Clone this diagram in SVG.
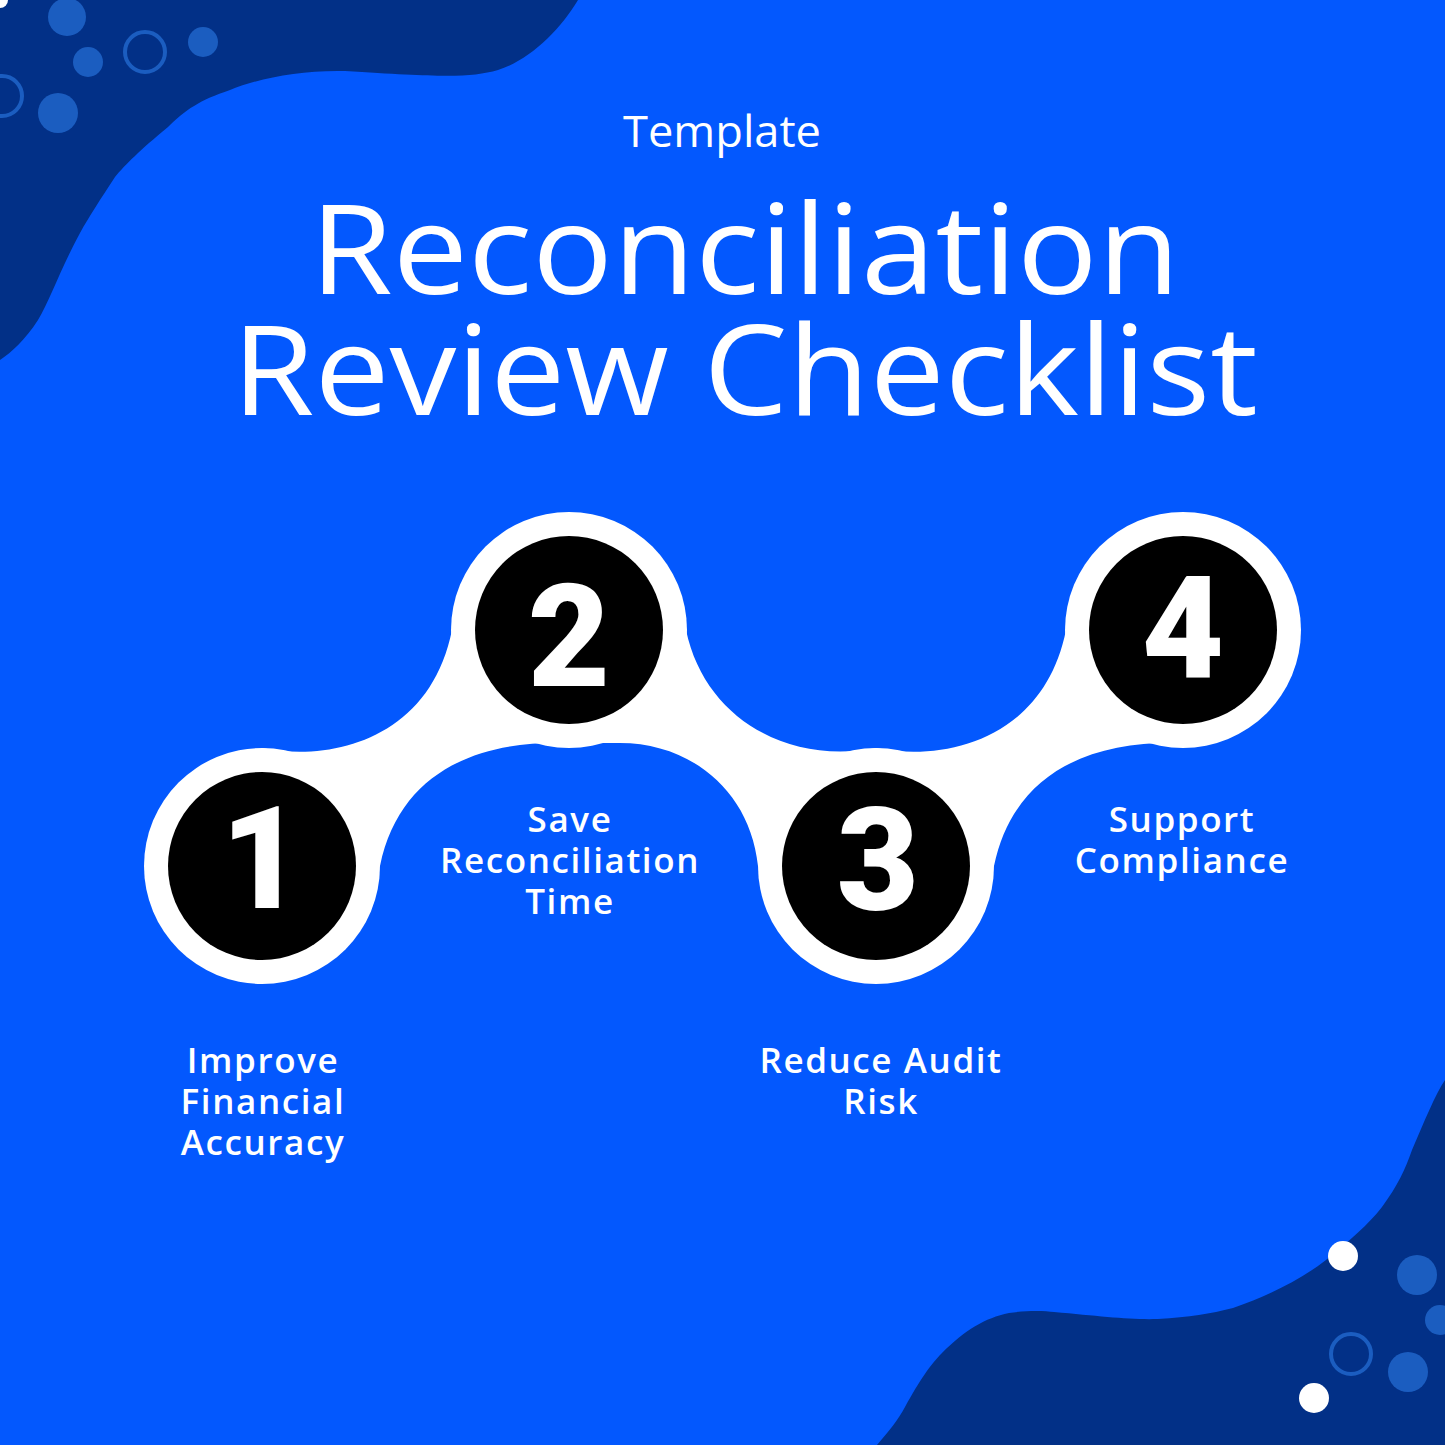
<svg xmlns="http://www.w3.org/2000/svg" width="1445" height="1445" viewBox="0 0 1445 1445">
<style>
.dot{fill:#1B5DC0}
.ring{fill:none;stroke:#1B5DC0;stroke-width:4}
.wd{fill:#fff}
.lab{font-family:"Open Sans","Liberation Sans",sans-serif;font-size:35px;font-weight:600;fill:#fff;text-anchor:middle;letter-spacing:1.6px}
.num{font-family:"Roboto","Liberation Sans",sans-serif;font-size:142px;font-weight:900;fill:#fff;text-anchor:middle}
.ttl{font-family:"Open Sans","Liberation Sans",sans-serif;fill:#fff;text-anchor:middle}
</style>
<rect width="1445" height="1445" fill="#0358FE"/>
<path fill="#023087" d="M0,0 L578,0 C560,30 530,60 498,70 C470,78 440,77 345,71 C300,70 260,78 230,90 C200,100 185,110 168,127 C140,150 125,165 115,177 C100,200 90,215 80,233 C60,270 50,300 38,320 C25,340 12,352 0,360 Z"/>
<path fill="#023087" d="M1445,1080 L1445,1445 L877,1445 C890,1430 898,1420 905,1407 C920,1380 930,1365 942,1353 C965,1330 985,1318 1009,1313 C1030,1310 1045,1311 1054,1312 C1100,1316 1130,1320 1158,1319 C1190,1317 1210,1314 1233,1308 C1270,1295 1300,1280 1326,1260 C1350,1240 1368,1225 1382,1207 C1398,1185 1405,1170 1412,1150 C1425,1120 1435,1095 1445,1080 Z"/>
<circle class="dot" cx="67" cy="17" r="19"/>
<circle class="dot" cx="88" cy="62" r="15"/>
<circle class="ring" cx="145" cy="52" r="20"/>
<circle class="dot" cx="203" cy="42" r="15"/>
<circle class="ring" cx="2" cy="96" r="20"/>
<circle class="dot" cx="58" cy="113" r="20"/>
<circle class="wd" cx="0" cy="0" r="8"/>
<circle class="dot" cx="1417" cy="1275" r="20"/>
<circle class="dot" cx="1440" cy="1320" r="15"/>
<circle class="ring" cx="1351" cy="1354" r="20"/>
<circle class="dot" cx="1408" cy="1372" r="20"/>
<circle class="wd" cx="1343" cy="1256" r="15"/>
<circle class="wd" cx="1314" cy="1398" r="15"/>
<text class="ttl" x="722" y="147" font-size="44" textLength="198" lengthAdjust="spacingAndGlyphs">Template</text>
<text class="ttl" x="745" y="294" font-size="124" textLength="870" lengthAdjust="spacingAndGlyphs">Reconciliation</text>
<text class="ttl" x="745" y="415" font-size="124" textLength="1026" lengthAdjust="spacingAndGlyphs">Review Checklist</text>
<g id="connectors" fill="#fff">
<path d="M262,748 C330,762 430,740 452,630 L569,630 L569,743 C480,740 400,770 380,866 L262,866 Z"/>
<path d="M686,630 C705,720 790,765 876,748 L876,866 L758,866 C750,790 690,743 620,743 L569,743 L569,630 Z"/>
<path d="M876,748 C944,762 1044,740 1066,630 L1183,630 L1183,743 C1094,740 1014,770 994,866 L876,866 Z"/>
</g>
<g id="node1"><circle class="wd" cx="262" cy="866" r="118"/><circle cx="262" cy="866" r="94"/><text class="num" x="262" y="908">1</text>
<text class="lab" x="263" y="1073">Improve</text><text class="lab" x="263" y="1114">Financial</text><text class="lab" x="263" y="1155">Accuracy</text></g>
<g id="node2"><circle class="wd" cx="569" cy="630" r="118"/><circle cx="569" cy="630" r="94"/><text class="num" x="569" y="686">2</text>
<text class="lab" x="570" y="832">Save</text><text class="lab" x="570" y="873">Reconciliation</text><text class="lab" x="570" y="914">Time</text></g>
<g id="node3"><circle class="wd" cx="876" cy="866" r="118"/><circle cx="876" cy="866" r="94"/><text class="num" x="878" y="910">3</text>
<text class="lab" x="881" y="1073">Reduce Audit</text><text class="lab" x="881" y="1114">Risk</text></g>
<g id="node4"><circle class="wd" cx="1183" cy="630" r="118"/><circle cx="1183" cy="630" r="94"/><text class="num" x="1183" y="678">4</text>
<text class="lab" x="1182" y="832">Support</text><text class="lab" x="1182" y="873">Compliance</text></g>
</svg>
